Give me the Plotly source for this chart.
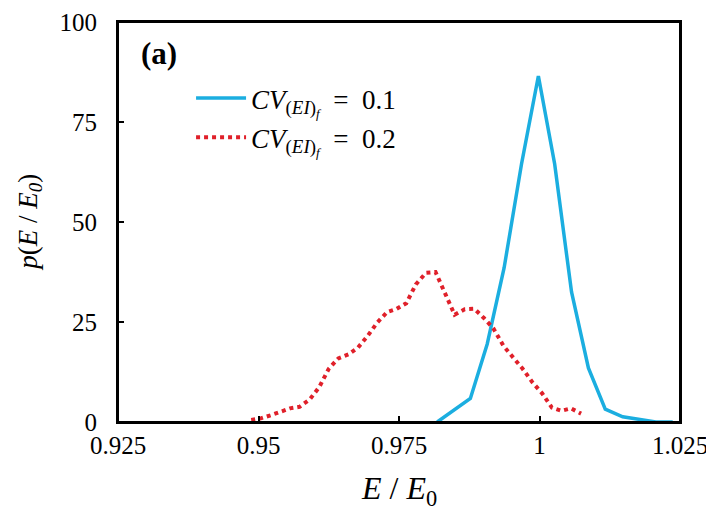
import plotly.graph_objects as go

# CV(EI)f = 0.1 (solid blue)
x_cv01 = [0.9818, 0.9847, 0.9877, 0.9907, 0.9937, 0.9968, 0.9998, 1.0027,
          1.0057, 1.0087, 1.0117, 1.0148, 1.0177, 1.0207, 1.0237]
p_cv01 = [0.0, 2.8, 5.9, 19.5, 38.5, 64.5, 86.5, 64.5,
          32.5, 13.5, 3.2, 1.3, 0.6, 0.0, 0.0]

# CV(EI)f = 0.2 (dotted red)
x_cv02 = [0.9487, 0.9504, 0.9522, 0.9539, 0.9556, 0.9573, 0.9591, 0.9608,
          0.9625, 0.9642, 0.9660, 0.9677, 0.9694, 0.9711, 0.9729, 0.9746,
          0.9763, 0.9780, 0.9798, 0.9815, 0.9832, 0.9849, 0.9867, 0.9884,
          0.9901, 0.9918, 0.9936, 0.9953, 0.9970, 0.9987, 1.0005, 1.0022,
          1.0039, 1.0056, 1.0074]
p_cv02 = [0.5, 0.9, 1.7, 2.5, 3.4, 3.8, 5.6, 8.7,
          13.3, 15.9, 16.9, 18.6, 21.5, 24.8, 27.5, 28.3,
          29.7, 34.4, 37.3, 37.5, 32.2, 26.8, 28.2, 28.3,
          26.0, 23.4, 19.0, 16.1, 13.3, 10.0, 7.1, 3.6,
          2.8, 3.4, 2.1]

x_tickvals = [0.925, 0.95, 0.975, 1.0, 1.025]
x_ticktext = ["0.925", "0.95", "0.975", "1", "1.025"]
y_tickvals = [0, 25, 50, 75, 100]

x_title = "<i>E</i> / <i>E</i><sub>0</sub>"
y_title = "<i>p</i>(<i>E</i> / <i>E<sub>0</sub></i>)"

serif = "Liberation Serif"
label_cv = "<i>CV</i><sub>(<i>EI</i>)<sub><i>f</i></sub></sub>  =  "

fig = go.Figure()
fig.add_trace(go.Scatter(
    x=x_cv01, y=p_cv01, mode="lines",
    line=dict(color="#1BAEE0", width=3.5),
    name=label_cv + "0.1", legendgroup="a",
))
fig.add_trace(go.Scatter(
    x=x_cv02, y=p_cv02, mode="lines",
    line=dict(color="#E0202A", width=4, dash="dot"),
    name=label_cv + "0.2", legendgroup="b",
))

fig.add_annotation(
    x=0.038, y=0.92, xref="paper", yref="paper", xanchor="left", yanchor="middle",
    text="<b>(a)</b>", showarrow=False,
    font=dict(family=serif, size=31, color="black"),
)
fig.add_annotation(
    x=0.5, y=-0.17, xref="paper", yref="paper", xanchor="center", yanchor="middle",
    text=x_title, showarrow=False,
    font=dict(family=serif, size=32, color="black"),
)
fig.add_annotation(
    x=-0.157, y=0.5, xref="paper", yref="paper", xanchor="center", yanchor="middle",
    text=y_title, showarrow=False, textangle=-90,
    font=dict(family=serif, size=27, color="black"),
)

# full plot frame
fig.add_shape(type="rect", xref="paper", yref="paper", x0=0, y0=0, x1=1, y1=1,
              line=dict(color="black", width=2), fillcolor="rgba(0,0,0,0)",
              layer="above")

fig.update_layout(
    template="none",
    width=706, height=513,
    margin=dict(l=110, r=34, t=14, b=99),
    paper_bgcolor="white", plot_bgcolor="white",
    showlegend=True,
    legend=dict(
        x=0.13, y=0.87, xanchor="left", yanchor="top",
        bgcolor="rgba(0,0,0,0)",
        font=dict(family=serif, size=27, color="black"),
        itemwidth=50, tracegroupgap=1,
    ),
    font=dict(family=serif, color="black"),
)

fig.update_xaxes(
    range=[0.925, 1.025], tickvals=x_tickvals, ticktext=x_ticktext,
    automargin=False,
    showgrid=False, zeroline=False,
    showline=True, linecolor="black", linewidth=2, mirror=True,
    ticks="inside", ticklen=6, tickwidth=1.5, tickcolor="black",
    tickfont=dict(family=serif, size=25, color="black"),
)
fig.update_yaxes(
    range=[0, 100], tickvals=y_tickvals,
    automargin=False,
    showgrid=False, zeroline=False,
    showline=True, linecolor="black", linewidth=2, mirror=True,
    ticks="inside", ticklen=6, tickwidth=1.5, tickcolor="black",
    ticklabelstandoff=14,
    tickfont=dict(family=serif, size=25, color="black"),
)

fig.write_html("out.html")
